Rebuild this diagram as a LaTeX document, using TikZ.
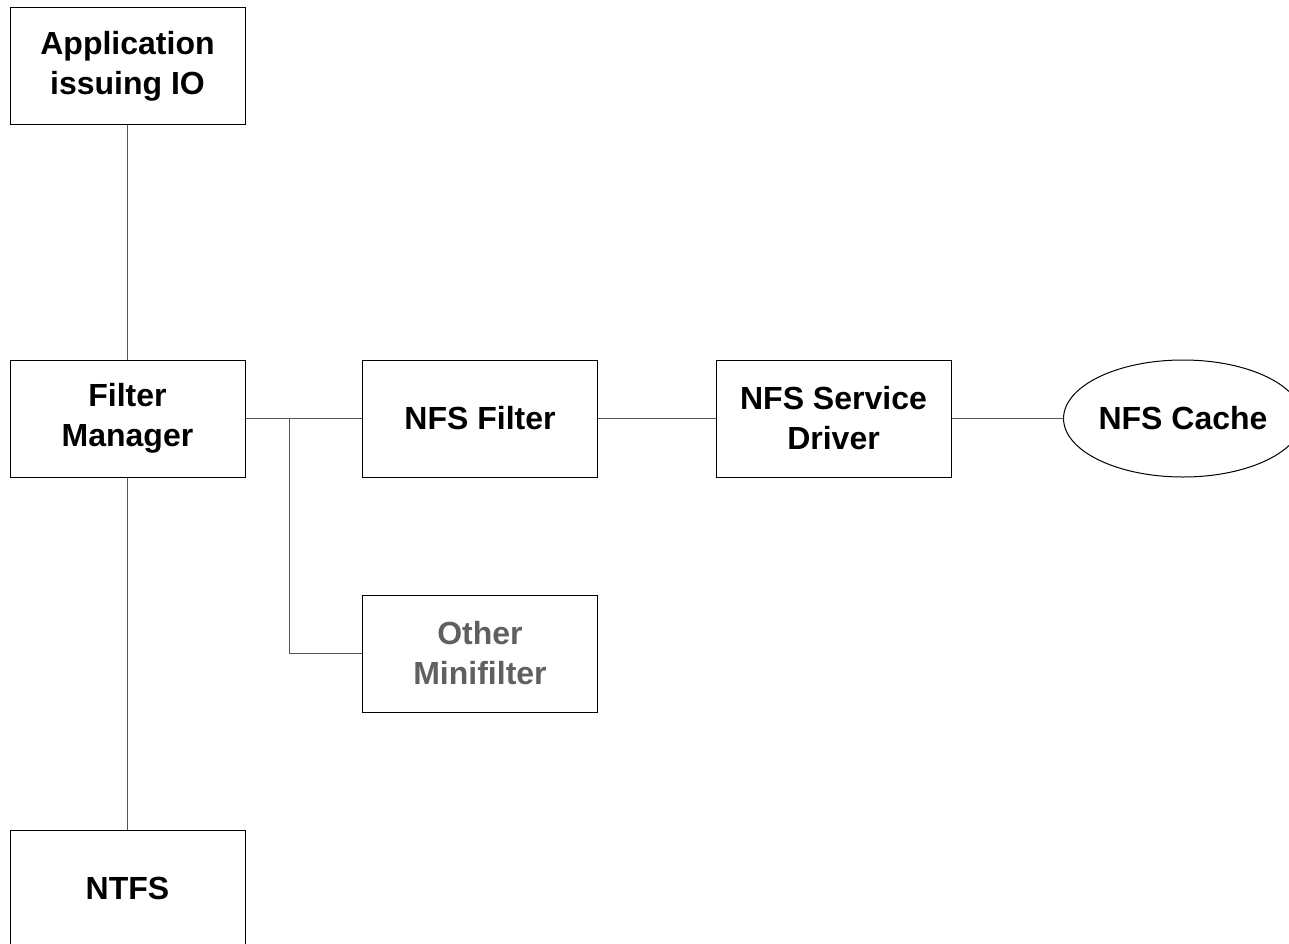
\documentclass[tikz,border=0pt]{standalone}
\usepackage{fontspec}
\setmainfont{Liberation Sans}
\usetikzlibrary{shapes.geometric}
\definecolor{conncol}{HTML}{555555}
\definecolor{greytext}{HTML}{606060}
\tikzset{
  boxnode/.style={draw=black, line width=1pt, rectangle, minimum width=235pt, minimum height=117pt,
    inner sep=0pt, align=center, font=\fontsize{32}{40}\selectfont\bfseries},
  ellnode/.style={draw=black, line width=1pt, ellipse, minimum width=234pt, minimum height=117pt,
    inner sep=0pt, align=center, font=\fontsize{32}{40}\selectfont\bfseries},
  conn/.style={draw=conncol, line width=1pt}
}
\begin{document}
\begin{tikzpicture}[x=1pt,y=-1pt]
\useasboundingbox (0,0) rectangle (1289,944);
\clip (0,0) rectangle (1289,944);
\node[boxnode] (app) at (127.5,66.5) {Application\\issuing IO};
\node[boxnode] (fm) at (127.5,418.5) {Filter\\Manager};
\node[boxnode] (ntfs) at (127.5,888.5) {NTFS};
\node[boxnode] (nfsf) at (480,418.5) {NFS Filter};
\node[boxnode] (other) at (480,653.5) {\textcolor{greytext}{Other}\\\textcolor{greytext}{Minifilter}};
\node[boxnode] (nsd) at (833.5,418.5) {NFS Service\\Driver};
\node[ellnode] (cache) at (1183,418.5) {NFS Cache};
\coordinate (br) at (289,418.5);
\draw[conn] (app) -- (fm);
\draw[conn] (fm) -- (ntfs);
\draw[conn] (fm) -- (nfsf);
\draw[conn] (br) |- (other.west);
\draw[conn] (nfsf) -- (nsd);
\draw[conn] (nsd) -- (cache);
\end{tikzpicture}
\end{document}
